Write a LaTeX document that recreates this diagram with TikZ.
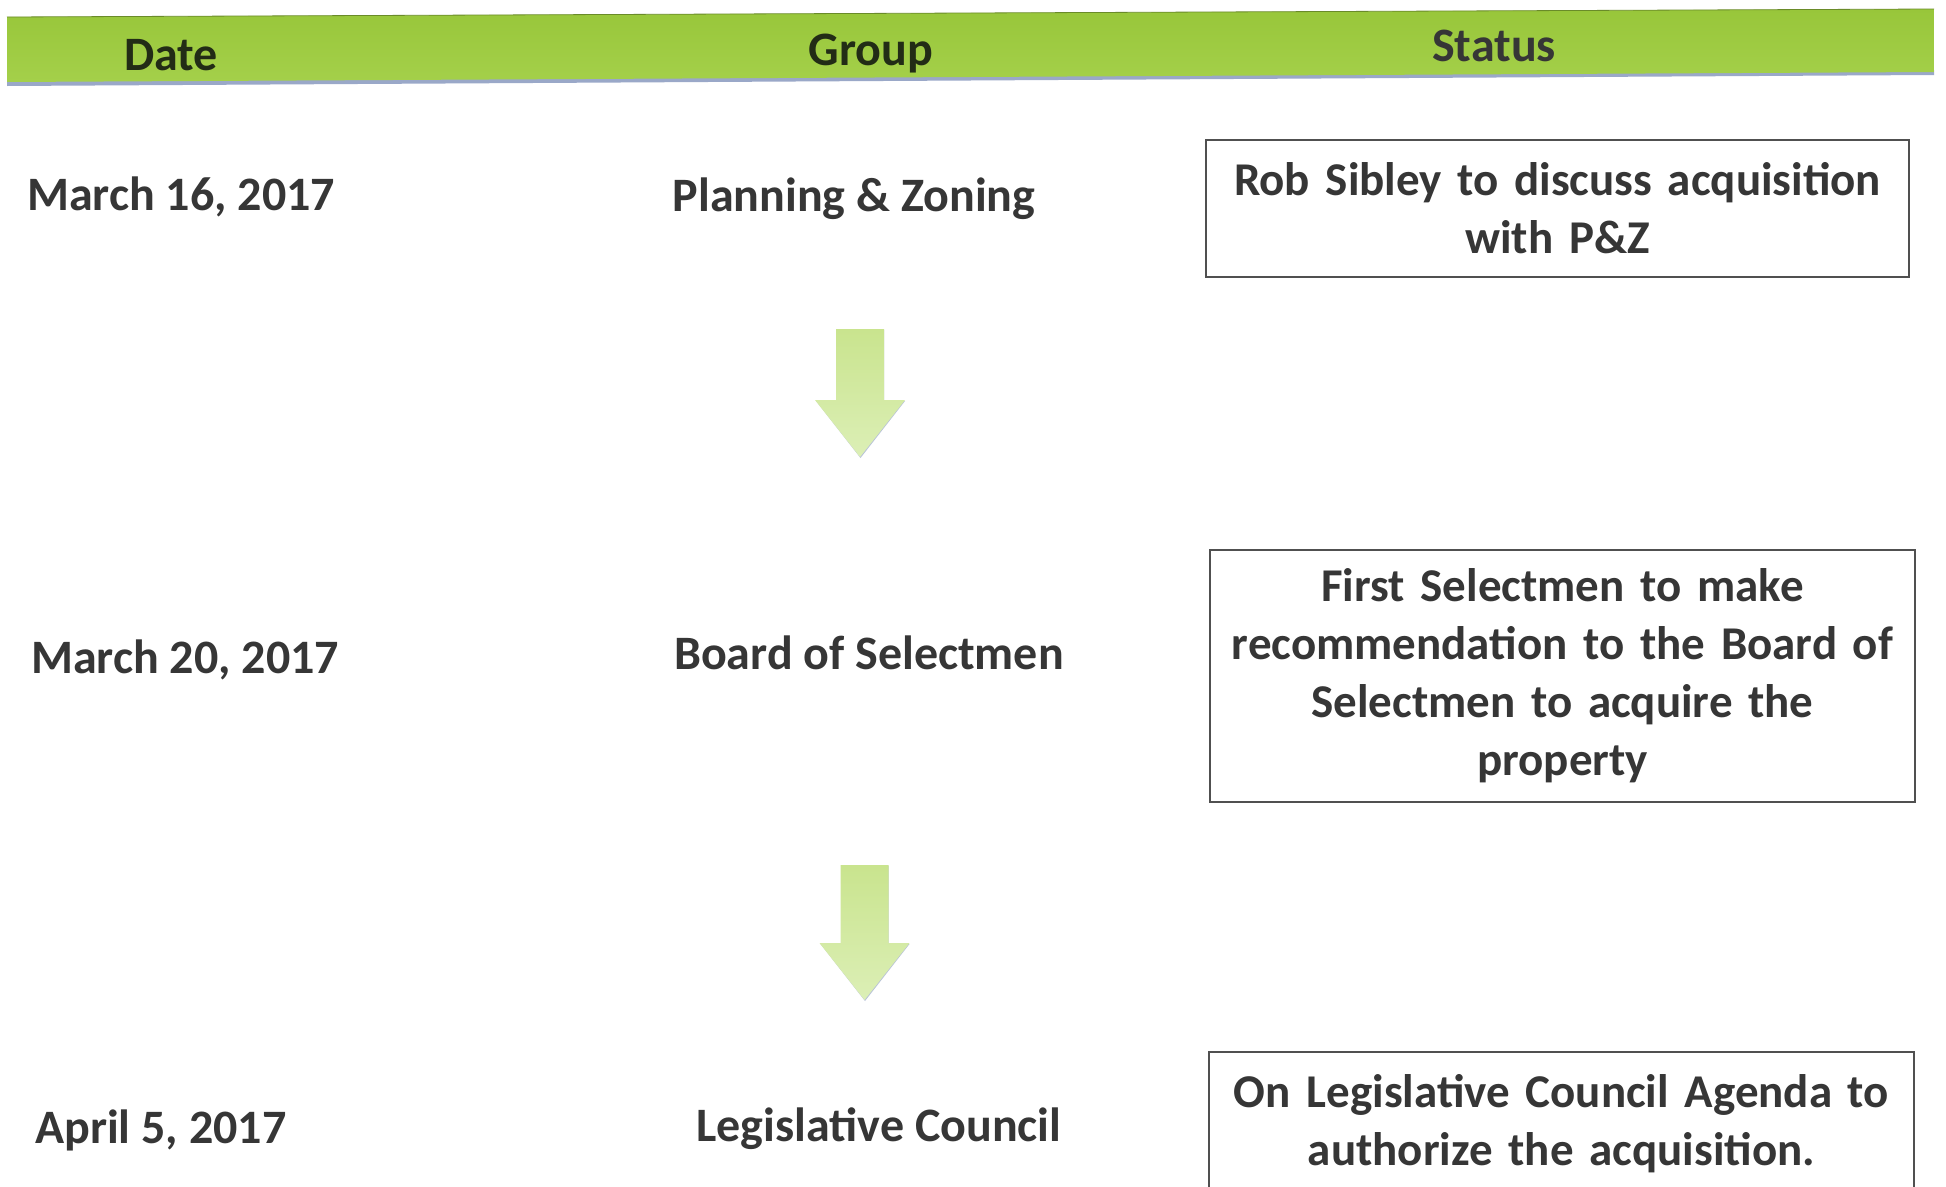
\documentclass[tikz,border=0pt]{standalone}
\usepackage{fontspec}
\setmainfont{Carlito}
\definecolor{txt}{HTML}{363636}
\definecolor{hdtxt}{HTML}{222C16}
\definecolor{barA}{HTML}{98C63A}
\definecolor{barB}{HTML}{BCE070}
\definecolor{barC}{HTML}{A4D04A}
\definecolor{shadowc}{HTML}{9AA8C8}
\definecolor{arrA}{HTML}{C9E48E}
\definecolor{arrB}{HTML}{DCEFB6}
\definecolor{boxline}{HTML}{505050}
\begin{document}
\begin{tikzpicture}[x=1pt,y=-1pt,
  lbl/.style={font=\bfseries\fontsize{48}{57}\selectfont, text=txt, inner sep=0pt},
  hdr/.style={font=\bfseries\fontsize{48}{57}\selectfont, text=hdtxt, inner sep=0pt},
  statusbox/.style={draw=boxline, line width=1.6pt, align=center, text width=690pt,
    font=\bfseries\fontsize{47}{58}\selectfont, text=txt, inner sep=0pt},
]
\useasboundingbox (0,0) rectangle (1946,1186);
\clip (0,0) rectangle (1946,1186);
\fill[white] (0,0) rectangle (1946,1186);

% header bar
\fill[shadowc] (7,80) -- (1934,70) -- (1934,75) -- (7,86) -- cycle;
\shade[top color=barA, middle color=barB, bottom color=barC]
  (7,17) -- (1934,9) -- (1934,72) -- (7,82) -- cycle;
\draw[barA!70!black, line width=0.8pt] (7,17) -- (1934,9);

\node[hdr, anchor=base] (hdate) at (171,70) {Date};
\node[hdr, anchor=base] (hgroup) at (871,65) {Group};
\node[hdr, anchor=base, text=txt] (hstatus) at (1494,61) {Status};

% row 1
\node[lbl, anchor=base west] (d1) at (27,210) {March 16, 2017};
\node[lbl, anchor=base] (g1) at (854,211) {Planning \& Zoning};
\node[statusbox, minimum width=703pt, minimum height=137pt] (s1) at (1557.5,208.5)
  {Rob Sibley to discuss acquisition\\with P\&Z};

% row 2
\node[lbl, anchor=base west] (d2) at (31,673) {March 20, 2017};
\node[lbl, anchor=base] (g2) at (869,669) {Board of Selectmen};
\node[statusbox, minimum width=705pt, minimum height=252pt] (s2) at (1562.5,676)
  {First Selectmen to make\\recommendation to the Board of\\Selectmen to acquire the\\property};

% row 3
\node[lbl, anchor=base west] (d3) at (35,1143) {April 5, 2017};
\node[lbl, anchor=base] (g3) at (879,1141) {Legislative Council};
\node[statusbox, minimum width=705pt, minimum height=144pt] (s3) at (1561.5,1124)
  {On Legislative Council Agenda to\\authorize the acquisition.};

% block arrows
\coordinate (a1) at (860,329);
\coordinate (a2) at (864.5,865);
\foreach \c/\len in {a1/71, a2/78}{
  \fill[shadowc!70] ([shift={(-23,-1)}]\c) ++(0,2) -- ++(0,\len) -- ++(-21,0) -- ++(44.5,57) -- ++(44.5,-57) -- ++(-21,0) -- ++(0,-\len) -- cycle;
  \shade[top color=arrA, bottom color=arrB]
    ([shift={(-24,0)}]\c) -- ++(0,\len) -- ++(-21,0) -- ++(45,57) -- ++(45,-57) -- ++(-21,0) -- ++(0,-\len) -- cycle;
}
\end{tikzpicture}
\end{document}
